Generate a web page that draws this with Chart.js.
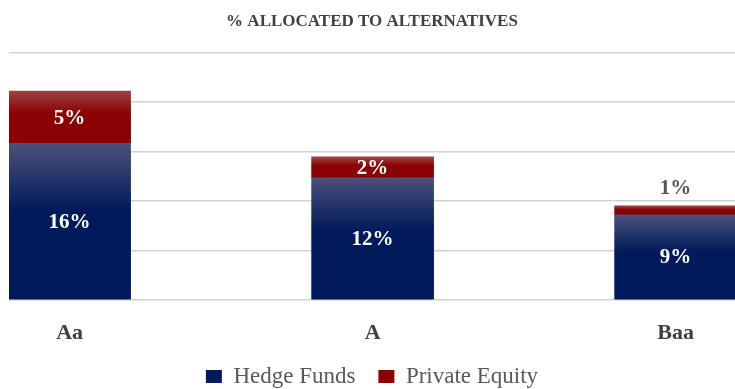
<!DOCTYPE html>
<html>
<head>
<meta charset="utf-8">
<script src="https://cdn.jsdelivr.net/npm/chart.js@4.4.1/dist/chart.umd.min.js"></script>
<style>
  html, body { margin: 0; padding: 0; background: #fff; overflow: hidden; }
  #wrap { width: 735px; height: 389px; }
</style>
</head>
<body>
<div id="wrap"><canvas id="chart" width="735" height="389"></canvas></div>
<script>
// data (labels show rounded percentages)
const categories = ['Aa', 'A', 'Baa'];
const hedgeFunds = [0.158, 0.1235, 0.086];
const privateEquity = [0.053, 0.021, 0.009];
const seriesNames = ['Hedge Funds', 'Private Equity'];
const yTickMax = 0.25;
const yTickStep = 0.05;

const SERIF = '"Liberation Serif", "DejaVu Serif", serif';
const NAVY = '#011a5b';
const RED = '#8b0000';

// vertical gradient spanning one stacked segment (lighter at its top)
function segmentFill(ctx, light, solid) {
  const chart = ctx.chart;
  if (!chart.chartArea || ctx.type !== 'data') return solid;
  const y = chart.scales.y;
  const i = ctx.dataIndex;
  const base = ctx.datasetIndex === 0 ? 0 : hedgeFunds[i];
  const top = base + ctx.raw.y;
  const g = chart.ctx.createLinearGradient(0, y.getPixelForValue(top), 0, y.getPixelForValue(base));
  g.addColorStop(0, light);
  g.addColorStop(0.43, solid);
  g.addColorStop(1, solid);
  return g;
}

// values written inside each segment, or above it when the segment is too thin
const valueLabels = {
  id: 'valueLabels',
  afterDatasetsDraw(chart) {
    const c = chart.ctx;
    c.save();
    c.textAlign = 'center';
    c.textBaseline = 'middle';
    c.font = 'bold 21px ' + SERIF;
    chart.data.datasets.forEach((ds, di) => {
      chart.getDatasetMeta(di).data.forEach((bar, i) => {
        const text = Math.round(ds.data[i].y * 100) + '%';
        const h = bar.base - bar.y;
        if (h < 18) {
          c.fillStyle = '#555555';
          c.fillText(text, bar.x, bar.y - 17);
        } else {
          c.fillStyle = '#ffffff';
          c.fillText(text, bar.x, bar.y + h / 2 + 1);
        }
      });
    });
    c.restore();
  }
};

new Chart(document.getElementById('chart'), {
  type: 'bar',
  data: {
    datasets: [
      {
        label: seriesNames[0],
        data: hedgeFunds.map((v, i) => ({ x: i, y: v })),
        backgroundColor: ctx => segmentFill(ctx, '#4a5179', NAVY),
        barThickness: 122
      },
      {
        label: seriesNames[1],
        data: privateEquity.map((v, i) => ({ x: i, y: v })),
        backgroundColor: ctx => segmentFill(ctx, '#9a4444', RED),
        barThickness: 122
      }
    ]
  },
  options: {
    responsive: false,
    animation: false,
    layout: { padding: { left: 9, right: 0, top: 0, bottom: -9 } },
    plugins: {
      title: {
        display: true,
        text: '% ALLOCATED TO ALTERNATIVES',
        color: '#404040',
        font: { family: SERIF, size: 17, weight: 'bold' },
        padding: { top: 11, bottom: 21 }
      },
      legend: {
        position: 'bottom',
        labels: {
          color: '#595959',
          font: { family: SERIF, size: 23 },
          boxWidth: 16,
          boxHeight: 13,
          padding: 23,
          generateLabels(chart) {
            const items = Chart.defaults.plugins.legend.labels.generateLabels(chart);
            items.forEach((it, i) => {
              it.fillStyle = i === 0 ? NAVY : RED;
              it.lineWidth = 0;
            });
            return items;
          }
        }
      },
      tooltip: { enabled: false }
    },
    scales: {
      x: {
        type: 'linear',
        stacked: true,
        offset: false,
        min: -0.2,
        max: 2.196,
        grid: { display: false, drawTicks: false, offset: false },
        border: { display: false },
        afterBuildTicks: axis => { axis.ticks = categories.map((_, i) => ({ value: i })); },
        afterFit: axis => { axis.height = 42; },
        ticks: {
          autoSkip: false,
          padding: 20,
          color: '#404040',
          font: { family: SERIF, size: 22, weight: 'bold' },
          callback: v => categories[v]
        }
      },
      y: {
        stacked: true,
        min: 0,
        max: yTickMax,
        border: { display: false },
        grid: { color: '#d2d2ce', lineWidth: 1.5, drawTicks: false },
        ticks: { display: false, stepSize: yTickStep }
      }
    }
  },
  plugins: [valueLabels]
});
</script>
</body>
</html>
